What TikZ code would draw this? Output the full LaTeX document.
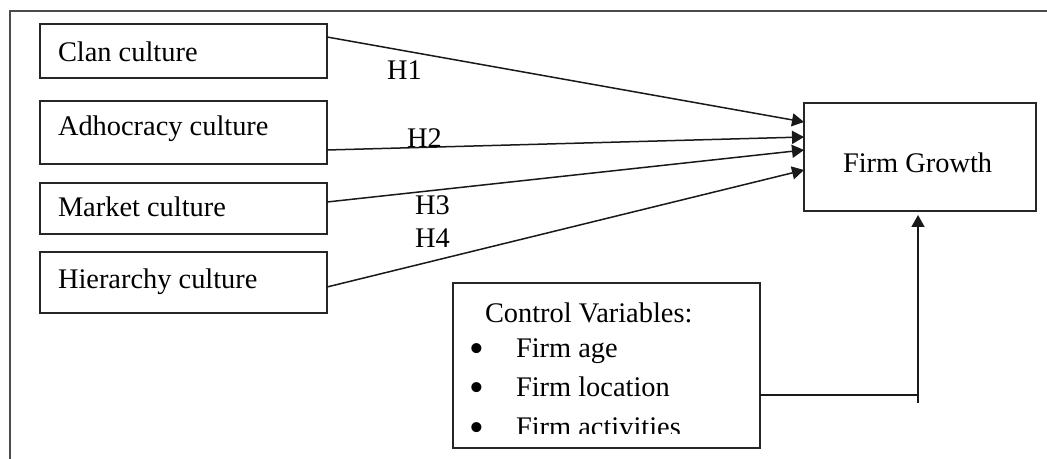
\documentclass[tikz,border=0pt]{standalone}
\usepackage{fontspec}
\setmainfont{Liberation Serif}
\usetikzlibrary{arrows.meta,calc}
\begin{document}
\begin{tikzpicture}[x=0.5pt,y=-0.5pt,
  every node/.style={inner sep=0pt,outer sep=0pt,font=\fontsize{14.2pt}{17pt}\selectfont},
  box/.style={draw=black!85,line width=0.7pt,rectangle},
  frameline/.style={draw=black!70,line width=1.1pt},
  conn/.style={draw=black!90,line width=0.75pt},
  arr/.style={conn,-{Triangle[length=6pt,width=6.5pt]}},
  txt/.style={anchor=base west},
  bul/.style={anchor=center,font=\fontsize{21pt}{21pt}\selectfont}]
\useasboundingbox (0,0) rectangle (1047,459);
% frame (cropped)
\draw[frameline] (10,459) -- (10,11) -- (1047,11);
% left boxes
\node[box,minimum width=143.5pt,minimum height=27pt] (clan) at (183.5,51) {};
\node[box,minimum width=143.5pt,minimum height=31.5pt] (adho) at (183.5,132.5) {};
\node[box,minimum width=143.5pt,minimum height=25.5pt] (mark) at (183.5,208.5) {};
\node[box,minimum width=143.5pt,minimum height=30.5pt] (hier) at (183.5,282.5) {};
\node[txt] (tclan) at (58,62) {Clan culture};
\node[txt] (tadho) at (58,136) {Adhocracy culture};
\node[txt] (tmark) at (58,217) {Market culture};
\node[txt] (thier) at (58,288) {Hierarchy culture};
% firm growth
\node[box,minimum width=116pt,minimum height=54pt] (fg) at (920,157) {};
\node[txt] (tfg) at (843,173) {Firm Growth};
% control box
\node[box,minimum width=153.5pt,minimum height=82.5pt] (ctrl) at (606.5,365.5) {};
\node[txt] (tctrl) at (485,322) {Control Variables:};
\node[bul] (b1) at (477,353) {•};
\node[bul] (b2) at (477,392) {•};
\node[bul] (b3) at (477,432) {•};
\node[txt] (c1) at (516,357) {Firm age};
\node[txt] (c2) at (516,396) {Firm location};
\begin{scope}
\clip (455,300) rectangle (758,433);
\node[txt] (c3) at (516,436) {Firm activities};
\end{scope}
% hypothesis arrows
\draw[arr] ([yshift=7pt]clan.east) -- ([yshift=17.5pt]fg.west);
\draw[arr] ([yshift=-8.75pt]adho.east) -- ([yshift=10pt]fg.west);
\draw[arr] ([yshift=3.25pt]mark.east) -- ([yshift=3.5pt]fg.west);
\draw[arr] ([yshift=-2.25pt]hier.east) -- ([yshift=-6.5pt]fg.west);
\node[txt] (h1) at (387,80) {H1};
\node[txt] (h2) at (407,148) {H2};
\node[txt] (h3) at (415,215) {H3};
\node[txt] (h4) at (415,248) {H4};
% control connector
\coordinate (corner) at (918,395);
\coordinate (tick) at (918,403);
\draw[conn] ([yshift=-14.75pt]ctrl.east) -- (corner);
\draw[arr,shorten >=2pt] (tick) -- (tick |- fg.south);
\end{tikzpicture}
\end{document}
